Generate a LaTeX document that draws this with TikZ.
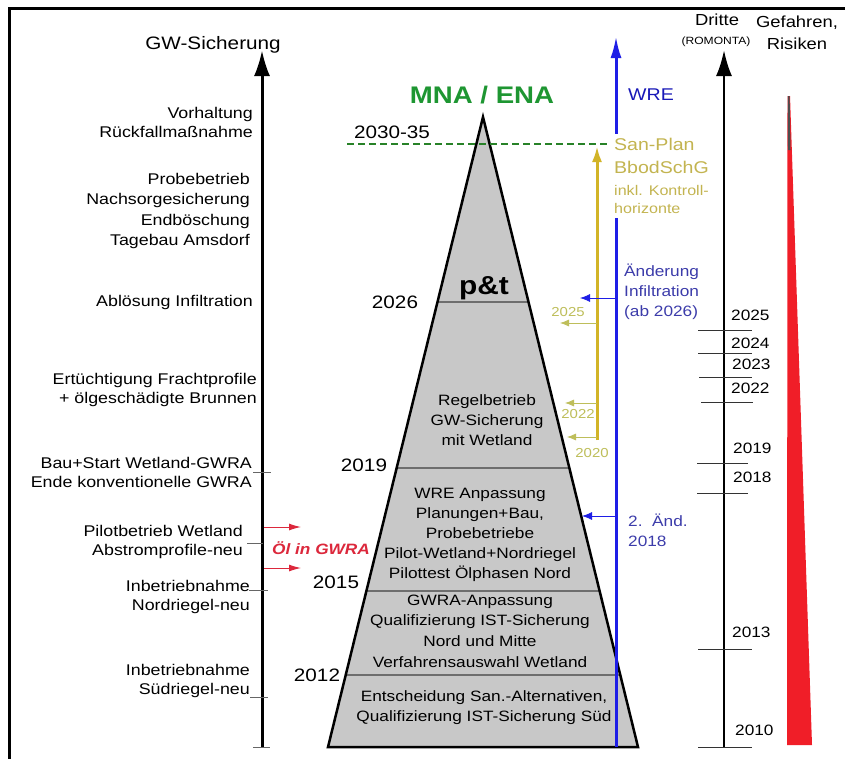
\documentclass[tikz,border=0pt]{standalone}
\usepackage{fontspec}
\setmainfont{Liberation Sans}[FakeStretch=1.15]
\usetikzlibrary{arrows.meta,calc}
\definecolor{mnagreen}{RGB}{30,150,50}
\definecolor{dashgreen}{RGB}{40,130,40}
\definecolor{wreblue}{RGB}{30,30,230}
\definecolor{txtblue}{RGB}{60,60,170}
\definecolor{sanyellow}{RGB}{195,180,80}
\definecolor{paleyellow}{RGB}{190,190,90}
\definecolor{arrowgold}{RGB}{210,180,40}
\definecolor{pyrgray}{RGB}{200,200,200}
\definecolor{divgray}{RGB}{110,110,110}
\definecolor{oilred}{RGB}{220,40,60}
\definecolor{riskred}{RGB}{240,30,40}
\tikzset{
  lbl/.style={anchor=east, align=right, inner sep=0pt, font=\fontsize{15.5}{19.5}\selectfont},
  pyrtxt/.style={align=center, inner sep=0pt, font=\fontsize{15}{20}\selectfont},
  pyryear/.style={inner sep=0pt, font=\fontsize{18}{20}\selectfont},
  ryear/.style={anchor=west, inner sep=0pt, font=\fontsize{15}{18}\selectfont},
  head/.style={inner sep=0pt, align=center, font=\fontsize{17}{21}\selectfont},
  bigaxis/.style={line width=3pt, -{Latex[length=26pt,width=16pt]}},
  tickline/.style={line width=1pt, black!80},
  smalltick/.style={line width=0.6pt, black!60},
  divline/.style={line width=1.2pt, divgray},
  yarrow/.style={line width=0.8pt, paleyellow, -{Latex[length=9pt,width=7pt]}},
  barrow/.style={line width=0.8pt, wreblue, -{Latex[length=10pt,width=8pt]}},
  rarrow/.style={line width=1pt, oilred, -{Latex[length=12pt,width=7pt]}},
  yeartxt/.style={inner sep=0pt, text=paleyellow, font=\fontsize{13}{15}\selectfont}
}
\begin{document}
\begin{tikzpicture}[x=1pt,y=-1pt]
\useasboundingbox (0,0) rectangle (845,758);
\fill[white] (0,0) rectangle (845,758);
% frame
\draw[line width=3pt] (9,760) -- (9,8) -- (850,8);

% ---------- pyramid ----------
\coordinate (apex) at (483,117);
\coordinate (bl) at (328,747);
\coordinate (br) at (638,747);
\fill[pyrgray] (apex) -- (br) -- (bl) -- cycle;
\foreach \t in {0.2937,0.5571,0.7524,0.8857}{
  \draw[divline] ($(apex)!\t!(bl)$) -- ($(apex)!\t!(br)$);
}
\draw[line width=2.5pt, line join=miter] (apex) -- (br) -- (bl) -- cycle;

\node[pyrtxt, font=\bfseries\fontsize{26}{28}\selectfont] (pt) at (484,288) {p\&t};
\node[pyrtxt] (regel) at (487,420) {Regelbetrieb\\GW-Sicherung\\mit Wetland};
\node[pyrtxt] (wreanp) at (480,535) {WRE Anpassung\\Planungen+Bau,\\Probebetriebe\\Pilot-Wetland+Nordriegel\\Pilottest Ölphasen Nord};
\node[pyrtxt, font=\fontsize{15}{20.7}\selectfont] (gwra) at (480,631) {GWRA-Anpassung\\Qualifizierung IST-Sicherung\\Nord und Mitte\\Verfahrensauswahl Wetland};
\node[pyrtxt] (entsch) at (484,708) {Entscheidung San.-Alternativen,\\Qualifizierung IST-Sicherung Süd};

% years at pyramid
\node[pyryear] (y3035) at (392,132) {2030-35};
\node[pyryear] (y2026) at (395,302) {2026};
\node[pyryear] (y2019) at (364,465) {2019};
\node[pyryear] (y2015) at (336,582) {2015};
\node[pyryear] (y2012) at (317,675) {2012};

\node[inner sep=0pt, text=mnagreen, font=\bfseries\fontsize{24}{26}\selectfont] (mna) at (482,95) {MNA / ENA};

% dashed green
\coordinate (dashL) at (347,144);
\coordinate (dashR) at (612,144);
\draw[dashgreen, line width=2.5pt, dash pattern=on 7pt off 4pt] (dashL) -- (dashR);

% ---------- left axis ----------
\node[head, font=\fontsize{18}{21}\selectfont] (gwsich) at (213,45) {GW-Sicherung};
\coordinate (gwbot) at (262,747);
\coordinate (gwtop) at (262,50);
\draw[bigaxis] (gwbot) -- (gwtop);
\foreach \yy/\xa/\xb in {472/253/271, 543/247/263, 590/249/268, 697/250/268, 747/253/270}{
  \draw[smalltick] (\xa,\yy) -- (\xb,\yy);
}
\node[lbl] (vorh) at (253,122.5) {Vorhaltung\\Rückfallmaßnahme};
\node[lbl, font=\fontsize{15.5}{20.5}\selectfont] (probe) at (250,211) {Probebetrieb\\Nachsorgesicherung\\Endböschung\\Tagebau Amsdorf};
\node[lbl] (abl) at (253,302) {Ablösung Infiltration};
\node[lbl] (ertue) at (257,390) {Ertüchtigung Frachtprofile\\+ ölgeschädigte Brunnen};
\node[lbl] (bau) at (252,472.5) {Bau+Start Wetland-GWRA\\Ende konventionelle GWRA};
\node[lbl] (pilot) at (243,542) {Pilotbetrieb Wetland\\Abstromprofile-neu};
\node[lbl] (inbn) at (250,597) {Inbetriebnahme\\Nordriegel-neu};
\node[lbl] (inbs) at (250,681) {Inbetriebnahme\\Südriegel-neu};

% oil
\node[inner sep=0pt, text=oilred, font=\bfseries\itshape\fontsize{15}{17}\selectfont] (oel) at (321,548) {Öl in GWRA};
\coordinate (ra1s) at (264,527); \coordinate (ra1e) at (301,527);
\coordinate (ra2s) at (264,568); \coordinate (ra2e) at (301,568);
\draw[rarrow] (ra1s) -- (ra1e);
\draw[rarrow] (ra2s) -- (ra2e);

% ---------- yellow (San-Plan) ----------
\coordinate (gbot) at (597,440);
\coordinate (gtop) at (597,146);
\draw[line width=3pt, arrowgold, -{Latex[length=16pt,width=10pt]}] (gbot) -- (gtop);
\coordinate (g25) at (597,323); \coordinate (g25t) at (560,323);
\coordinate (g22) at (597,403); \coordinate (g22t) at (565,403);
\coordinate (g20) at (597,437); \coordinate (g20t) at (567,437);
\draw[yarrow] (g25) -- (g25t);
\draw[yarrow] (g22) -- (g22t);
\draw[yarrow] (g20) -- (g20t);
\node[yeartxt] (t2025) at (568,312) {2025};
\node[yeartxt] (t2022) at (578,414) {2022};
\node[yeartxt] (t2020) at (592,453) {2020};

% ---------- blue (WRE) ----------
\coordinate (bbot) at (616,747);
\coordinate (btop) at (616,36);
\draw[line width=3pt, wreblue, -{Latex[length=22pt,width=11pt]}] (bbot) -- (btop);
\node[inner sep=0pt, anchor=west, text=wreblue!80!black, font=\fontsize{17}{20}\selectfont] (wre) at (628,95) {WRE};
\node[anchor=north west, fill=white, inner xsep=3pt, inner ysep=4pt, align=left, text=sanyellow,
      font=\fontsize{17}{23}\selectfont] (san) at (611,134)
  {San-Plan\\BbodSchG\\[-1pt]{\fontsize{14}{18}\selectfont inkl. Kontroll-}\\[-5pt]{\fontsize{14}{18}\selectfont horizonte}};
\coordinate (b26) at (616,298); \coordinate (b26t) at (580,298);
\coordinate (b18) at (616,516); \coordinate (b18t) at (582,516);
\draw[barrow] (b26) -- (b26t);
\draw[barrow] (b18) -- (b18t);
\node[inner sep=0pt, anchor=west, align=left, text=txtblue, font=\fontsize{15}{20}\selectfont] (aend) at (624,292) {Änderung\\Infiltration\\(ab 2026)};
\node[inner sep=0pt, anchor=west, align=left, text=txtblue, font=\fontsize{15}{20}\selectfont] (aend2) at (628,530) {2.\ \ Änd.\\2018};

% ---------- right axis (Dritte) ----------
\node[head, font=\fontsize{16}{18}\selectfont] (dritte) at (717,20) {Dritte};
\node[head, font=\fontsize{10.5}{12}\selectfont] (romonta) at (716,42) {(ROMONTA)};
\coordinate (dbot) at (724,747);
\coordinate (dtop) at (724,50);
\draw[bigaxis, line width=2.5pt] (dbot) -- (dtop);
\foreach \yy/\xa/\xb in {330/698/752, 353/698/752, 377/699/752, 402/701/753, 463/697/748, 493/697/748, 649/698/752, 747/698/752}{
  \draw[tickline] (\xa,\yy) -- (\xb,\yy);
}
\node[ryear] (r2025) at (731,315) {2025};
\node[ryear] (r2024) at (731,343) {2024};
\node[ryear] (r2023) at (732,364) {2023};
\node[ryear] (r2022) at (731,388) {2022};
\node[ryear] (r2019) at (733,448) {2019};
\node[ryear] (r2018) at (733,477) {2018};
\node[ryear] (r2013) at (732,632) {2013};
\node[ryear] (r2010) at (735,730) {2010};

% ---------- risk wedge ----------
\node[head, align=center, font=\fontsize{16}{22}\selectfont] (gef) at (797,33) {Gefahren,\\Risiken};
\fill[riskred] (787.5,96) -- (790,96) -- (812,745) -- (787,745) -- cycle;
\fill[black!70] (787.8,96) -- (789.6,96) -- (790.5,150) -- (788,150) -- cycle;
\end{tikzpicture}
\end{document}
